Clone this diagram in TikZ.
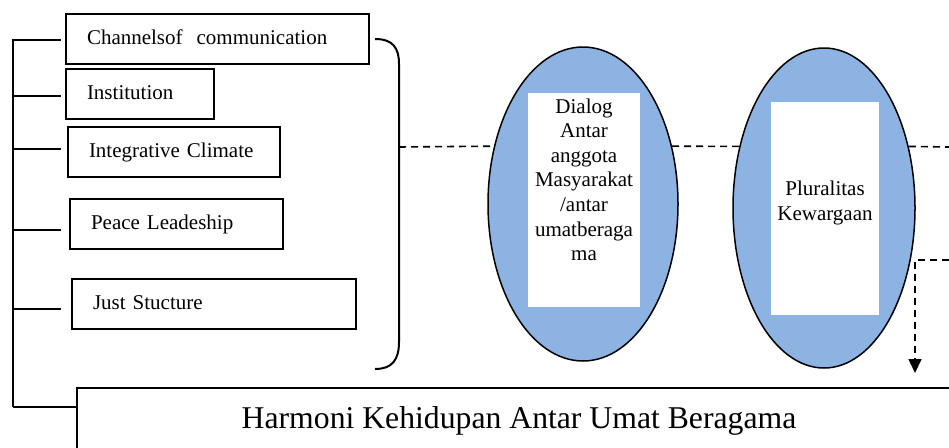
\documentclass[tikz,border=0pt]{standalone}
\usepackage{fontspec}
\setmainfont{Liberation Serif}
\usetikzlibrary{calc}
\usetikzlibrary{shapes.geometric}
\usetikzlibrary{arrows.meta}
\usetikzlibrary{positioning}

\definecolor{bubbleblue}{RGB}{141,179,226}

\tikzset{
    factorbox/.style={draw, line width=2pt, minimum height=50pt, inner xsep=21pt, inner ysep=0pt,
        anchor=north west, align=left, text height=14pt, text depth=4pt,
        font=\fontsize{21}{24.6}\selectfont},
    bubble/.style={ellipse, draw, line width=1.5pt, fill=bubbleblue, inner sep=0pt},
    panel/.style={fill=white, inner sep=0pt},
    paneltext/.style={align=center, inner sep=0pt, font=\fontsize{21}{24.6}\selectfont},
    link/.style={line width=2pt},
    flow/.style={line width=1.6pt, dash pattern=on 7pt off 5pt},
}

\begin{document}
\begin{tikzpicture}[x=1pt,y=-1pt]
    % Page frame (the bottom box runs off the edge)
    \useasboundingbox (0,0) rectangle (949,447);
    \clip (0,0) rectangle (949,447);

    % Factor boxes
    \node[factorbox, text width=261pt] (chan) at (65,13) {Channelsof\ \ communication};
    \node[factorbox, text width=106pt] (inst) at (65,68) {Institution};
    \node[factorbox, text width=170pt] (clim) at (67,126) {Integrative Climate};
    \node[factorbox, text width=171pt] (lead) at (69,198) {Peace Leadeship};
    \node[factorbox, text width=242pt] (just) at (71,278) {Just Stucture};

    % Result box
    \node[draw, line width=2pt, anchor=north west, minimum width=884pt, minimum height=65pt,
        text height=22pt, text depth=7pt, font=\fontsize{31.7}{38}\selectfont]
        (harmoni) at (76,387) {Harmoni Kehidupan Antar Umat Beragama};

    % Left spine with ticks
    \coordinate (spinetop) at (13,39);
    \coordinate (spinebot) at (13,407);
    \draw[link] (spinetop) -- (spinebot);
    \foreach \name/\dy in {chan/1, inst/1.5, clim/-3.5, lead/6, just/4.5}
        \draw[link] ($(spinetop |- \name.west)+(0,\dy)$) -- ++(48,0);
    \draw[link] (spinebot) -- (harmoni.west |- spinebot);

    % Bracket on the right of the boxes
    \coordinate (bracetop) at (375,39);
    \coordinate (bracemid) at (399,147);
    \coordinate (bracebot) at (375,369);
    \draw[link] (bracetop) .. controls (393,39) and (399,48) .. (399,64)
        -- (399,342) .. controls (399,360) and (392,369) .. (bracebot);

    % Ellipses with white panels
    \node[bubble, minimum width=190pt, minimum height=314pt] (dialog) at (583,204) {};
    \node[panel, minimum width=112pt, minimum height=214pt] (dialogpanel) at (584,200) {};
    \node[paneltext, below=5.5pt of dialogpanel.north] (dialogtext)
        {Dialog\\Antar\\anggota\\Masyarakat\\/antar\\umatberaga\\ma};

    \node[bubble, minimum width=182pt, minimum height=320pt] (plural) at (824,208) {};
    \node[panel, minimum width=108pt, minimum height=213pt] (pluralpanel) at (825,208.5) {};
    \node[paneltext] (pluraltext) at ([yshift=5.5pt]pluralpanel.center) {Pluralitas\\Kewargaan};

    % Dashed flow lines
    \coordinate (edgetop) at (949,147);
    \coordinate (edgelow) at (949,260);
    \coordinate (turn) at (915,260);
    \coordinate (tip) at (915,373);
    \draw[flow] (bracemid) -- (dialog.147);
    \draw[flow] (dialog.33) -- (plural.144);
    \draw[flow] (plural.36) -- (edgetop);
    \draw[flow, -{Triangle[length=14pt,width=13pt]}] (edgelow) -- (turn) -- (tip);
\end{tikzpicture}
\end{document}
